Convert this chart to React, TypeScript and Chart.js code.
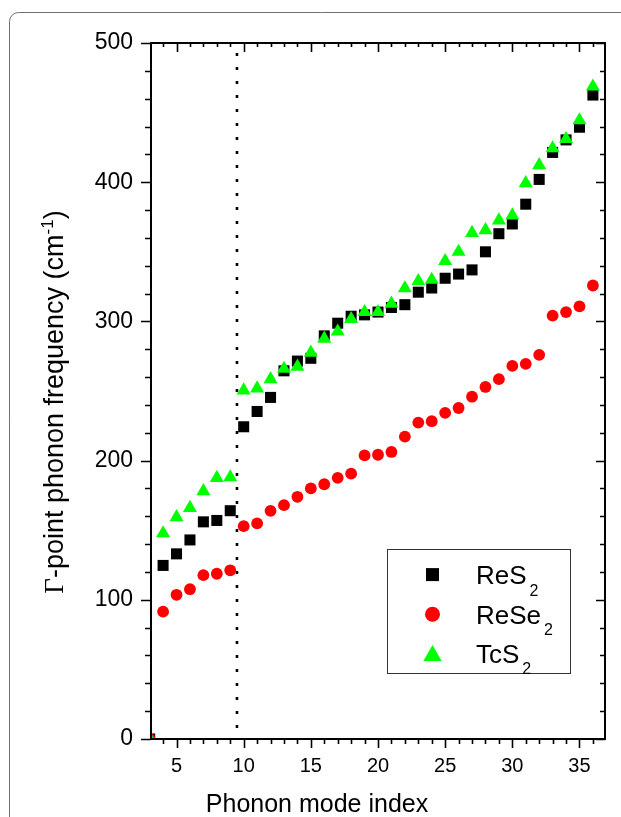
import React, { useEffect, useRef } from "react";
import { Chart, registerables } from "chart.js";

Chart.register(...registerables);

// ---------- data ----------
const modeIndex = [
  1, 2, 3, 4, 5, 6, 7, 8, 9, 10, 11, 12, 13, 14, 15, 16, 17, 18, 19, 20,
  21, 22, 23, 24, 25, 26, 27, 28, 29, 30, 31, 32, 33, 34, 35, 36,
];
const res2 = [
  0, 0, 0, 124.7, 133, 143, 156, 157, 164, 224.3, 235.3, 245.4, 264.5, 271.5,
  273.5, 289.6, 298.7, 303.7, 304.7, 306.7, 310, 312, 321, 324, 331, 334, 337,
  350, 363, 370, 384.2, 402, 421.4, 430.4, 439.5, 462.6,
];
const rese2 = [
  0, 0, 0, 91.5, 103.6, 107.6, 117.7, 118.7, 121.2, 152.9, 154.9, 163.9, 168,
  174, 180, 183, 187.6, 190.6, 203.7, 204.2, 206.2, 217.2, 227.3, 228.3, 234.3,
  237.8, 245.9, 252.9, 258.5, 268, 269.5, 276, 304.2, 306.7, 310.8, 325.8,
];
const tcs2 = [
  0, 0, 0, 147.8, 159.4, 166, 178, 187.6, 188, 250.4, 251.9, 258.5, 266, 267.5,
  277.6, 287.6, 292.7, 301.7, 306.7, 306.7, 312.8, 323.8, 328.9, 329.9, 343.4,
  350, 363.6, 365.6, 372.6, 376.1, 399.3, 412.3, 424.4, 431, 444.5, 468.7,
];
const seriesNames = ["ReS2", "ReSe2", "TcS2"];
const xTickLabels = [5, 10, 15, 20, 25, 30, 35];
const yTickLabels = [0, 100, 200, 300, 400, 500];
const xRange = [3.1, 36.9];
const yRange = [0, 500];
const dividerAt = 9.5;
const xTitle = "Phonon mode index";
const yTitleParts = ["\u0393", "-point phonon frequency (cm", "-1", ")"];

// ---------- styles ----------
const SANS = '"Liberation Sans", Arial, Helvetica, sans-serif';
const SERIF = '"Liberation Serif", "Times New Roman", serif';
const colors = ["#000000", "#ff0000", "#00ff00"];

function drawMarker(ctx: CanvasRenderingContext2D, kind: number, x: number, y: number, s: number) {
  ctx.beginPath();
  if (kind === 0) {
    ctx.rect(x - s / 2, y - s / 2, s, s);
  } else if (kind === 1) {
    ctx.arc(x, y, s / 2, 0, Math.PI * 2);
  } else {
    const r = s;
    ctx.moveTo(x, y - r);
    ctx.lineTo(x + 0.866 * r, y + 0.5 * r);
    ctx.lineTo(x - 0.866 * r, y + 0.5 * r);
    ctx.closePath();
  }
  ctx.fillStyle = colors[kind];
  ctx.fill();
}

const decor = {
  id: "decor",
  beforeDraw(chart: any) {
    const ctx: CanvasRenderingContext2D = chart.ctx;
    ctx.save();
    ctx.fillStyle = "#ffffff";
    ctx.fillRect(0, 0, chart.width, chart.height);
    // outer rounded frame
    const x0 = 9.5, y0 = 12.5, x1 = 720, y1 = 920, r = 9;
    ctx.beginPath();
    ctx.moveTo(x0, y1);
    ctx.lineTo(x0, y0 + r);
    ctx.arcTo(x0, y0, x0 + r, y0, r);
    ctx.lineTo(x1, y0);
    ctx.strokeStyle = "#707070";
    ctx.lineWidth = 1;
    ctx.stroke();
    ctx.restore();
  },
  beforeDatasetsDraw(chart: any) {
    const ctx: CanvasRenderingContext2D = chart.ctx;
    const xs = chart.scales.x, ys = chart.scales.y;
    const px = xs.getPixelForValue(dividerAt);
    ctx.save();
    ctx.strokeStyle = "#000";
    ctx.lineWidth = 2.6;
    ctx.setLineDash([3, 11]);
    ctx.lineDashOffset = 3;
    ctx.beginPath();
    ctx.moveTo(px, ys.getPixelForValue(yRange[0]));
    ctx.lineTo(px, ys.getPixelForValue(yRange[1]));
    ctx.stroke();
    ctx.restore();
  },
  afterDatasetsDraw(chart: any) {
    const ctx: CanvasRenderingContext2D = chart.ctx;
    const { left, right, top, bottom } = chart.chartArea;
    const xs = chart.scales.x, ys = chart.scales.y;
    ctx.save();
    ctx.strokeStyle = "#000";
    // ticks
    ctx.lineWidth = 1.6;
    ctx.beginPath();
    for (let v = Math.ceil(xRange[0]); v <= xRange[1]; v++) {
      const p = Math.round(xs.getPixelForValue(v)) + 0.5;
      const major = v % 5 === 0;
      ctx.moveTo(p, bottom);
      ctx.lineTo(p, bottom + (major ? 9 : 5));
      ctx.moveTo(p, top);
      ctx.lineTo(p, top + (major ? 9 : 4));
    }
    for (let v = yRange[0]; v <= yRange[1]; v += 20) {
      const p = Math.round(ys.getPixelForValue(v)) + 0.5;
      const major = v % 100 === 0;
      ctx.moveTo(left, p);
      ctx.lineTo(left - (major ? 10 : 6), p);
      ctx.moveTo(right, p);
      ctx.lineTo(right - (major ? 9 : 5), p);
    }
    ctx.stroke();
    // plot frame
    ctx.lineWidth = 2;
    ctx.strokeRect(left, top, right - left, bottom - top);

    // x title
    ctx.fillStyle = "#000";
    ctx.font = `25px ${SANS}`;
    ctx.textAlign = "center";
    ctx.textBaseline = "alphabetic";
    ctx.fillText(xTitle, 317, 812);

    // y title (rotated)
    const fonts = [`27px ${SERIF}`, `27px ${SANS}`, `17px ${SANS}`, `27px ${SANS}`];
    const dys = [0, 0, -10, 0];
    let total = 0;
    const widths = yTitleParts.map((t, i) => {
      ctx.font = fonts[i];
      const w = ctx.measureText(t).width;
      total += w;
      return w;
    });
    ctx.save();
    ctx.translate(63, 402);
    ctx.rotate(-Math.PI / 2);
    ctx.textAlign = "left";
    let cx = -total / 2;
    yTitleParts.forEach((t, i) => {
      ctx.font = fonts[i];
      ctx.fillText(t, cx, dys[i]);
      cx += widths[i];
    });
    ctx.restore();

    // legend
    const lx = 387.5, ly = 549.5, lw = 183, lh = 124;
    ctx.fillStyle = "#fff";
    ctx.fillRect(lx, ly, lw, lh);
    ctx.strokeStyle = "#333";
    ctx.lineWidth = 1;
    ctx.strokeRect(lx, ly, lw, lh);
    const rowY = [574.6, 614.2, 653];
    const sizes = [13, 15, 10.6];
    seriesNames.forEach((name, i) => {
      const cy = rowY[i];
      drawMarker(ctx, i, 432.5, i === 2 ? cy + 2.6 : cy, sizes[i]);
      const base = name.slice(0, -1);
      const sub = name.slice(-1);
      ctx.fillStyle = "#000";
      ctx.textAlign = "left";
      ctx.textBaseline = "alphabetic";
      ctx.font = `26px ${SANS}`;
      ctx.fillText(base, 476, cy + 9.5);
      const w = ctx.measureText(base).width;
      ctx.font = `16px ${SANS}`;
      ctx.fillText(sub, 476 + w + 3, cy + 21);
    });
    ctx.restore();
  },
};

export default function App() {
  const ref = useRef<HTMLCanvasElement>(null);
  useEffect(() => {
    if (!ref.current) return;
    const mk = (vals: number[]) => modeIndex.map((m, i) => ({ x: m, y: vals[i] }));
    const chart = new Chart(ref.current, {
      type: "scatter",
      data: {
        datasets: [
          {
            label: seriesNames[2],
            data: mk(tcs2),
            pointStyle: "triangle",
            pointRadius: 8.1,
            pointHoverRadius: 8.1,
            backgroundColor: colors[2],
            borderWidth: 0,
            order: 0,
            clip: 0,
          },
          {
            label: seriesNames[1],
            data: mk(rese2),
            pointStyle: "circle",
            pointRadius: 5.9,
            pointHoverRadius: 5.9,
            backgroundColor: colors[1],
            borderWidth: 0,
            order: 1,
            clip: 0,
          },
          {
            label: seriesNames[0],
            data: mk(res2),
            pointStyle: "rect",
            pointRadius: 7.8,
            pointHoverRadius: 7.8,
            backgroundColor: colors[0],
            borderWidth: 0,
            order: 2,
            clip: 0,
          },
        ] as any,
      },
      options: {
        responsive: false,
        animation: false,
        devicePixelRatio: 1,
        events: [],
        layout: { padding: { left: 0, top: 43, right: 16, bottom: 0 } },
        plugins: { legend: { display: false }, tooltip: { enabled: false }, title: { display: false } },
        scales: {
          x: {
            type: "linear",
            min: xRange[0],
            max: xRange[1],
            grid: { display: false, drawTicks: false },
            border: { display: false },
            ticks: {
              stepSize: 1,
              autoSkip: false,
              maxRotation: 0,
              padding: 15,
              color: "#000",
              font: { family: SANS, size: 20 },
              callback: (v: any) => (xTickLabels.includes(Number(v)) ? String(v) : ""),
            },
            afterFit: (s: any) => {
              s.height = 78;
            },
          },
          y: {
            type: "linear",
            min: yRange[0],
            max: yRange[1],
            grid: { display: false, drawTicks: false },
            border: { display: false },
            ticks: {
              stepSize: 100,
              padding: 18,
              color: "#000",
              font: { family: SANS, size: 23 },
              callback: (v: any) => (yTickLabels.includes(Number(v)) ? String(v) : ""),
            },
            afterFit: (s: any) => {
              s.width = 151;
            },
          },
        },
      },
      plugins: [decor],
    });
    return () => chart.destroy();
  }, []);
  return (
    <div style={{ position: "fixed", left: 0, top: 0, width: 621, height: 817, background: "#fff" }}>
      <canvas ref={ref} width={621} height={817} style={{ display: "block" }} />
    </div>
  );
}
